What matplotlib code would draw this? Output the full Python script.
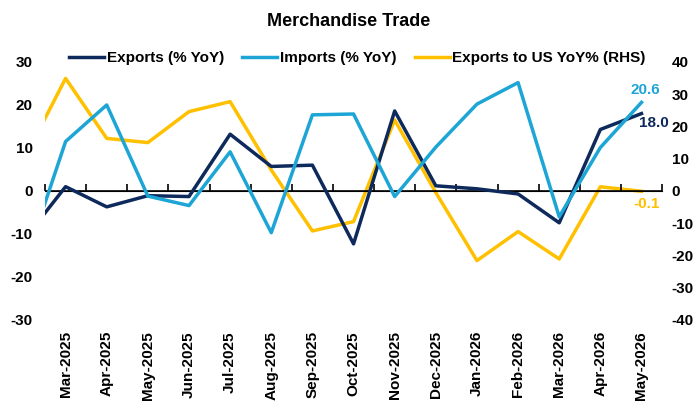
import numpy as np
import matplotlib
matplotlib.use("Agg")
import matplotlib.pyplot as plt

plt.rcParams['font.family'] = ['Liberation Sans', 'DejaVu Sans']
plt.rcParams['font.weight'] = 'bold'
plt.rcParams['axes.unicode_minus'] = False

# first month (Feb-2025) sits outside the visible range, only its segment shows
months = ["Feb-2025", "Mar-2025", "Apr-2025", "May-2025", "Jun-2025", "Jul-2025",
          "Aug-2025", "Sep-2025", "Oct-2025", "Nov-2025", "Dec-2025", "Jan-2026",
          "Feb-2026", "Mar-2026", "Apr-2026", "May-2026"]
exports = [-11.2, 1.0, -3.7, -1.1, -1.3, 13.2, 5.7, 6.0, -12.3, 18.6,
           1.2, 0.5, -0.7, -7.4, 14.3, 18.0]
imports = [-17.1, 11.5, 20.0, -1.2, -3.4, 9.1, -9.7, 17.7, 17.9, -1.3,
           10.2, 20.2, 25.2, -6.0, 10.1, 20.6]
exports_us = [10.1, 34.9, 16.3, 15.0, 24.6, 27.7, 6.5, -12.4, -9.5, 22.0,
              -0.5, -21.6, -12.6, -21.1, 1.3, -0.1]

navy = "#0E2A5C"
lblue = "#1DA5D6"
yellow = "#FFC000"

x = np.arange(len(months)) - 1

fig = plt.figure(figsize=(6.98, 4.05), dpi=100)
ax = fig.add_axes([0.0645, 0.21, 0.884, 0.637])
ax2 = ax.twinx()
ax.set_zorder(ax2.get_zorder() + 1)
ax.patch.set_visible(False)

l1, = ax.plot(x, exports, color=navy, lw=2.5, label="Exports (% YoY)")
l2, = ax.plot(x, imports, color=lblue, lw=2.5, label="Imports (% YoY)")
l3, = ax2.plot(x, exports_us, color=yellow, lw=2.5, label="Exports to US YoY% (RHS)")

ax.set_xlim(-0.5, len(months) - 1.5)
ax.set_ylim(-30, 30)
ax2.set_ylim(-40, 40)
ax.set_yticks(range(-30, 31, 10))
ax2.set_yticks(range(-40, 41, 10))

for a in (ax, ax2):
    for s in a.spines.values():
        s.set_visible(False)

ax.tick_params(axis='y', length=0, pad=9, labelsize=11)
ax2.tick_params(axis='y', length=0, pad=7, labelsize=11)

ax.set_xticks(x[1:])
ax.set_xticklabels(months[1:], rotation=90, fontsize=11)
ax.tick_params(axis='x', length=0, pad=8)

# zero line with tick marks between categories
ax.axhline(0, color="black", lw=1.2, zorder=1)
sec = ax.secondary_xaxis(0.5)
sec.spines['bottom'].set_linewidth(1.2)
sec.set_xticks(np.arange(-0.5, len(months) - 1, 1.0))
sec.set_xticklabels([])
sec.tick_params(axis='x', length=5, width=1.2, direction='out')

# end labels
ax.annotate(f"{imports[-1]:.1f}", (x[-1], imports[-1]), xytext=(3, 4),
            textcoords='offset points', color=lblue, fontsize=11,
            ha='center', va='bottom')
ax.annotate(f"{exports[-1]:.1f}", (x[-1], exports[-1]), xytext=(9, -7),
            textcoords='offset points', color=navy, fontsize=11,
            ha='center', va='center')
ax2.annotate(f"{exports_us[-1]:.1f}", (x[-1], exports_us[-1]), xytext=(4, -9),
             textcoords='offset points', color=yellow, fontsize=11,
             ha='center', va='center')

fig.legend(handles=[l1, l2, l3], loc='center', bbox_to_anchor=(0.512, 0.857),
           ncol=3, frameon=False, fontsize=11, handlelength=2.3,
           handletextpad=0.15, columnspacing=1.2)

fig.suptitle("Merchandise Trade", fontsize=13, fontweight='bold', y=0.968)

fig.savefig("out.png", dpi=100)
